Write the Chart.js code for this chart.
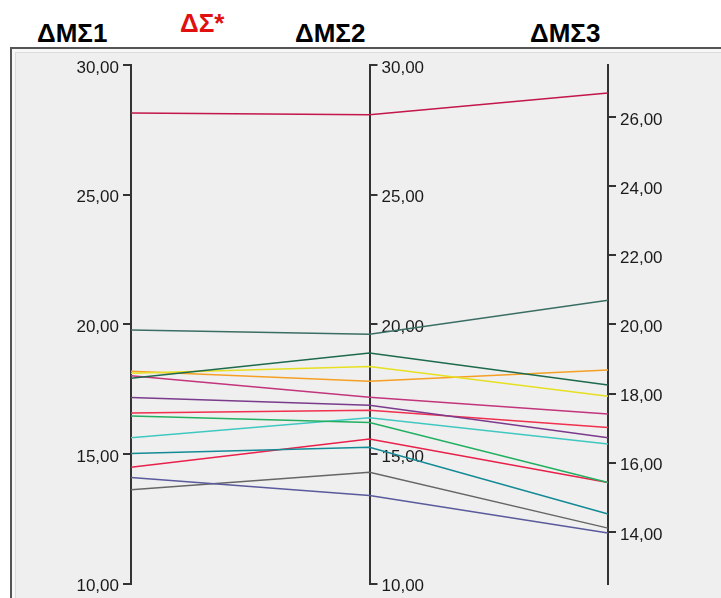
<!DOCTYPE html>
<html>
<head>
<meta charset="utf-8">
<script src="https://cdn.jsdelivr.net/npm/chart.js@4.4.1/dist/chart.umd.min.js"></script>
<style>
  html, body { margin: 0; padding: 0; background: #fff; overflow: hidden; }
  #wrap { position: relative; width: 721px; height: 598px; }
  .panel { position: absolute; left: 10px; top: 47px; width: 720px; height: 570px; box-sizing: border-box;
           border: 2px solid #555; background: #efefef; box-shadow: inset 0 0 0 3px #f7f7f7, inset 0 0 0 4px #dcdcdc; }
  .hdr { position: absolute; font-family: "Liberation Sans", Arial, sans-serif; font-weight: bold;
         font-size: 26px; color: #000; white-space: nowrap; line-height: 1; }
  canvas { position: absolute; left: 0; top: 0; }
</style>
</head>
<body>
<div id="wrap">
  <div class="panel"></div>
  <div class="hdr" style="left:37px;top:20px">ΔΜΣ1</div>
  <div class="hdr" style="left:180px;top:10px;color:#e01010">ΔΣ*</div>
  <div class="hdr" style="left:295px;top:20px">ΔΜΣ2</div>
  <div class="hdr" style="left:530px;top:20px">ΔΜΣ3</div>
  <canvas id="chart" width="721" height="598" style="width:721px;height:598px"></canvas>
</div>
<script>
// axes of the parallel plot
const axes = ['ΔΜΣ1', 'ΔΜΣ2', 'ΔΜΣ3'];
const axisIds = ['y1', 'y2', 'y3'];

// one value per case on each axis
const dms1 = [28.15, 19.78, 17.92, 18.12, 18.19, 18.02, 17.18, 16.58, 16.47, 15.63, 15.02, 14.49, 14.10, 13.63];
const dms2 = [28.08, 19.62, 18.90, 18.38, 17.81, 17.19, 16.88, 16.69, 16.22, 16.40, 15.26, 15.58, 13.40, 14.30];
const dms3 = [26.69, 20.70, 18.25, 17.92, 18.68, 17.41, 16.72, 17.02, 15.43, 16.54, 14.52, 15.43, 13.97, 14.11];

const lineColors = ['#c3164a', '#3a6e64', '#1d6a4c', '#e6e020', '#f5a024', '#c2357c', '#7a3b8c',
                    '#f0304e', '#22b060', '#40c8c0', '#148a96', '#e8204a', '#5a5a9c', '#666666'];

// tick labels
const ticks12 = [10, 15, 20, 25, 30];
const ticks3 = [14, 16, 18, 20, 22, 24, 26];
const range12 = [10, 30];
const range3 = [12.5, 27.5];

const fmt = v => v.toFixed(2).replace('.', ',');

function axisOpts(position, range, tickList, width) {
    return {
        type: 'linear',
        position: position,
        min: range[0],
        max: range[1],
        afterBuildTicks: s => { s.ticks = tickList.map(v => ({ value: v })); },
        afterFit: s => { s.width = width; },
        grid: { drawOnChartArea: false, drawTicks: true, tickLength: 8, color: '#333', lineWidth: 2 },
        border: { display: true, color: '#333', width: 2 },
        ticks: { padding: 4, labelOffset: 3, color: '#1a1a1a', font: { family: 'Liberation Sans', size: 17 }, callback: fmt }
    };
}

// middle axis sits on the 2nd category, lines take each point from its own axis scale
const parallelPlugin = {
    id: 'parallel',
    afterLayout(chart) {
        const mid = chart.scales.y2;
        const px = chart.scales.x.getPixelForValue(1);
        mid.left = px;
        mid.right = px + 70;
        mid.width = 70;
    },
    afterDatasetsUpdate(chart) {
        chart.data.datasets.forEach((ds, i) => {
            chart.getDatasetMeta(i).data.forEach((pt, j) => {
                pt.y = chart.scales[axisIds[j]].getPixelForValue(ds.data[j]);
            });
        });
    }
};

new Chart(document.getElementById('chart'), {
    type: 'line',
    data: {
        labels: axes,
        datasets: dms1.map((v, i) => ({
            data: [dms1[i], dms2[i], dms3[i]],
            borderColor: lineColors[i],
            borderWidth: 1.5,
            pointRadius: 0,
            tension: 0,
            fill: false,
            yAxisID: 'y1'
        }))
    },
    options: {
        responsive: false,
        animation: false,
        devicePixelRatio: 1,
        layout: { padding: { top: 65, bottom: 13, left: 0, right: 0 } },
        plugins: { legend: { display: false }, tooltip: { enabled: false } },
        scales: {
            x: { type: 'category', display: false, offset: false },
            y1: axisOpts('left', range12, ticks12, 131),
            y2: axisOpts('right', range12, ticks12, 0),
            y3: axisOpts('right', range3, ticks3, 113)
        }
    },
    plugins: [parallelPlugin]
});
</script>
</body>
</html>
